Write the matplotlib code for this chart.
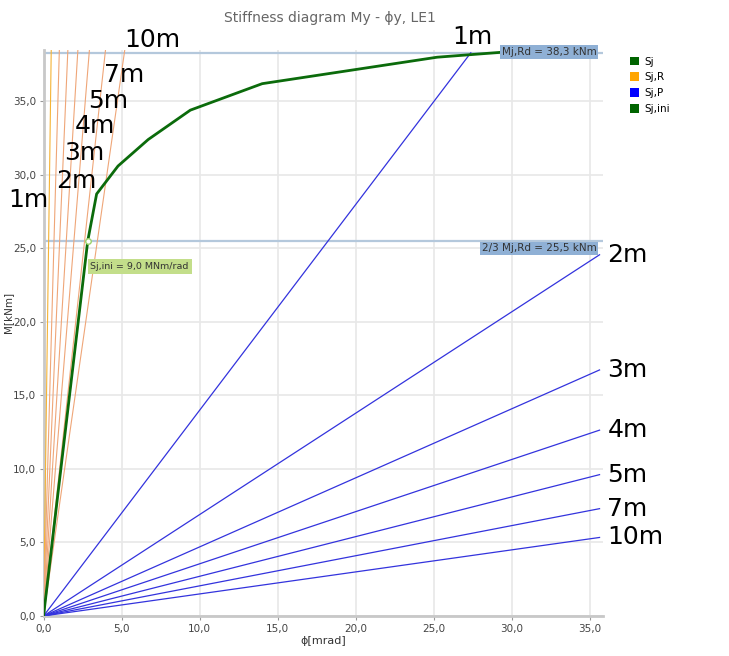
"""Stiffness diagram My - phi_y with rigid / pinned boundary lines."""

import matplotlib
matplotlib.use("Agg")
import matplotlib.pyplot as plt
from matplotlib.patches import Patch
from matplotlib.ticker import FuncFormatter

# Sj curve (phi [mrad], M [kNm])
sj_phi = [0.0, 2.83, 3.4, 4.77, 6.7, 9.4, 14.0, 25.2, 29.5, 31.5]
sj_m = [0.0, 25.5, 28.7, 30.6, 32.4, 34.4, 36.2, 38.0, 38.35, 38.4]

# initial stiffness segment
ini_phi = [0.0, 2.83]
ini_m = [0.0, 25.5]

mj_rd = 38.3
mj_rd_23 = 25.5

lengths = ["1m", "2m", "3m", "4m", "5m", "7m", "10m"]
# boundary stiffnesses [kNm/mrad]
sj_r = [78.0, 38.0, 24.7, 17.5, 13.1, 9.7, 7.4]
sj_p = [1.40, 0.69, 0.47, 0.355, 0.27, 0.205, 0.15]

# label positions for the rigid lines (phi, M)
r_lab_x = [-2.25, 0.82, 1.35, 2.0, 2.85, 3.85, 5.2]
r_lab_y = [28.3, 29.6, 31.5, 33.3, 35.0, 36.8, 39.2]

XMAX, YMAX = 35.8, 38.5

fig = plt.figure(figsize=(7.29, 6.56), dpi=100)
ax = fig.add_axes([0.0597, 0.061, 0.767, 0.863])

# rigid boundary lines (Sj,R)
for k, s in enumerate(sj_r):
    c = "#F5B335" if k == 0 else "#EFA678"
    ax.plot([0, YMAX / s], [0, YMAX], color=c, lw=0.8, zorder=3)
    ax.text(r_lab_x[k], r_lab_y[k], lengths[k], fontsize=18, color="black",
            ha="left", va="center", zorder=6)

# pinned boundary lines (Sj,P)
for k, s in enumerate(sj_p):
    x_end = min(XMAX - 0.2, mj_rd / s)
    y_end = s * x_end
    ax.plot([0, x_end], [0, y_end], color="#3333DD", lw=0.9, zorder=3)
    if k == 0:
        ax.text(x_end + 0.1, y_end + 0.25, lengths[k], fontsize=18,
                ha="center", va="bottom", zorder=6)
    else:
        ax.text(x_end + 0.5, y_end, lengths[k], fontsize=18,
                ha="left", va="center", zorder=6)

# limit lines
ax.axhline(mj_rd, color="#B4C8DC", lw=1.6, zorder=2)
ax.axhline(mj_rd_23, color="#B4C8DC", lw=1.6, zorder=2)

# Sj curve and initial stiffness
ax.plot(ini_phi, ini_m, color="#7DC35A", lw=1.0, zorder=4)
ax.plot(sj_phi, sj_m, color="#0B6B0B", lw=2.0, zorder=5)
ax.plot([ini_phi[-1]], [ini_m[-1]], marker="o", ms=4, mfc="white",
        mec="#9BD36B", mew=1, zorder=6)

box_kw = dict(color="#333333", zorder=7)
ax.text(XMAX - 0.4, mj_rd + 0.05, "Mj,Rd = 38,3 kNm", ha="right", va="center",
        fontsize=7.5, bbox=dict(boxstyle="square,pad=0.15", fc="#8FB0D5", ec="none"),
        **box_kw)
ax.text(XMAX - 0.4, mj_rd_23 - 0.5, "2/3 Mj,Rd = 25,5 kNm", ha="right", va="center",
        fontsize=7.5, bbox=dict(boxstyle="square,pad=0.15", fc="#8FB0D5", ec="none"),
        **box_kw)
ax.text(3.0, 23.75, "Sj,ini = 9,0 MNm/rad", ha="left", va="center", fontsize=6.8,
        bbox=dict(boxstyle="square,pad=0.3", fc="#C3DE8A", ec="none"), **box_kw)

ax.set_xlim(0, XMAX)
ax.set_ylim(0, YMAX)
ax.set_xticks([0, 5, 10, 15, 20, 25, 30, 35])
ax.set_yticks([0, 5, 10, 15, 20, 25, 30, 35])
fmt = FuncFormatter(lambda v, p: f"{v:.1f}".replace(".", ","))
ax.xaxis.set_major_formatter(fmt)
ax.yaxis.set_major_formatter(fmt)
ax.tick_params(labelsize=7.5, colors="#444444", length=3, color="#999999", pad=2.5)
ax.grid(True, color="#E8E8E8", lw=1.2)
ax.set_axisbelow(True)
for side in ("top", "right"):
    ax.spines[side].set_visible(False)
for side in ("left", "bottom"):
    ax.spines[side].set_color("#C8C8C8")
    ax.spines[side].set_linewidth(2)

ax.set_xlabel("ϕ[mrad]", fontsize=8, color="#333333", labelpad=2)
ax.set_ylabel("M[kNm]", fontsize=7.5, color="#333333")
ax.yaxis.set_label_coords(-0.055, 0.536)
fig.text(0.453, 0.972, "Stiffness diagram My - ϕy, LE1", ha="center", va="center",
         fontsize=10, color="#666666")

handles = [Patch(fc="#006400", ec="none", label="Sj"),
           Patch(fc="#FFA500", ec="none", label="Sj,R"),
           Patch(fc="#0000FF", ec="none", label="Sj,P"),
           Patch(fc="#006400", ec="none", label="Sj,ini")]
fig.legend(handles=handles, loc="upper left", bbox_to_anchor=(0.858, 0.92),
           frameon=False, fontsize=7.5, handlelength=0.9, handleheight=0.9,
           handletextpad=0.5, labelspacing=0.55, borderaxespad=0)

fig.savefig("out.png", dpi=100)
plt.close(fig)
